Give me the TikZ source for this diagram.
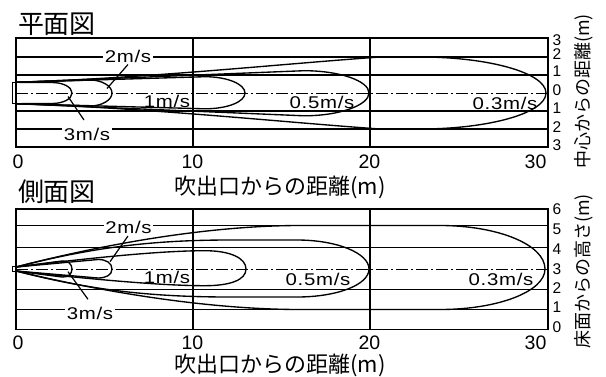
\documentclass[tikz,border=0pt]{standalone}
\usepackage{fontspec}
\setmainfont{Liberation Sans}
\newfontfamily\jp{Noto Sans CJK JP}
\newfontfamily\lbl[FakeStretch=1.2,LetterSpace=4]{Liberation Sans}
\tikzset{
  gridline/.style={line width=1.35pt},
  contour/.style={line width=1.35pt, line join=round},
  centerline/.style={line width=1pt, dash pattern=on 12pt off 3pt on 2pt off 3pt},
  leader/.style={line width=1.2pt},
  tick/.style={font=\fontsize{19.5}{19.5}\selectfont, inner sep=0pt},
  rtick/.style={font=\fontsize{15.5}{15.5}\selectfont, inner sep=0pt},
  lab/.style={font=\lbl\fontsize{17}{17}\selectfont, inner sep=0.5pt},
  wlab/.style={lab, fill=white, inner sep=1.5pt},
  title/.style={font=\jp\fontsize{26}{26}\selectfont, inner sep=0pt},
  axtitle/.style={font=\jp\fontsize{22}{22}\selectfont, inner sep=0pt},
  rtitle/.style={font=\jp\fontsize{18}{18}\selectfont, inner sep=0pt, rotate=90},
}
\begin{document}
\begin{tikzpicture}[x=1pt,y=-1pt]
\useasboundingbox (0,0) rectangle (606,376);
% ===================== TOP: plan view =====================
\node[title] (t1) at (57,24) {平面図};
% grid
\draw[gridline] (16,38) rectangle (548,147);
\foreach \yy in {57,75,111,129} \draw[gridline] (16,\yy) -- (548,\yy);
\draw[gridline] (193,38) -- (193,147);
\draw[gridline] (370,38) -- (370,147);
\draw[centerline] (16,93) -- (548,93);
% nozzle
\draw[gridline] (12.7,82.3) rectangle (16,103.7);
% contours
\draw[contour] (16,82.3) -- (52,82.5) .. controls (63,82.5) and (72,87) .. (72,93)
  .. controls (72,99) and (63,103.5) .. (52,103.5) -- (16,103.7);
\draw[contour] (16,82.3) -- (90,80) .. controls (102,80) and (112,86) .. (112,93)
  .. controls (112,100) and (102,106) .. (90,106) -- (16,103.7);
\draw[contour] (16,82.3) -- (205,76.7) .. controls (227,76.7) and (245,84) .. (245,93)
  .. controls (245,102) and (227,108.8) .. (205,108.8) -- (16,103.7);
\draw[contour] (16,82.3) -- (304,70.7) .. controls (340,70.7) and (369,81) .. (369,93)
  .. controls (369,105) and (340,115.8) .. (304,115.8) -- (16,103.7);
\draw[contour] (16,82.3) .. controls (150,78) and (280,64) .. (380,57) -- (420,57)
  .. controls (489.5,57) and (546,73.1) .. (546,93)
  .. controls (546,112.9) and (489.5,129) .. (420,129) -- (380,129)
  .. controls (280,122) and (150,108) .. (16,103.7);
% labels
\node[wlab] (a2) at (128,56) {2m/s};
\node[wlab] (a3) at (87,134.5) {3m/s};
\node[lab] (a1) at (167,101.5) {1m/s};
\node[lab] (a05) at (322,102.5) {0.5m/s};
\node[lab] (a03) at (505,103) {0.3m/s};
\coordinate (a2e) at (107,88.5);
\coordinate (a2s) at (128,64.5);
\coordinate (a3e) at (68,96.5);
\coordinate (a3s) at (84,120);
\draw[leader] (a2s) -- (a2e);
\draw[leader] (a3s) -- (a3e);
% ticks
\node[tick] (x0a) at (18,161.5) {0};
\node[tick] (x10a) at (192.5,161.5) {10};
\node[tick] (x20a) at (369.5,161.5) {20};
\node[tick] (x30a) at (535.5,161.5) {30};
\node[axtitle] (xta) at (280,187.5) {吹出口からの距離(m)};
\node[rtick] (r3a) at (557,40) {3};
\node[rtick] (r2a) at (557,54) {2};
\node[rtick] (r1a) at (557,71.5) {1};
\node[rtick] (r0a) at (557,90) {0};
\node[rtick] (r1b) at (557,108.3) {1};
\node[rtick] (r2b) at (557,126.7) {2};
\node[rtick] (r3b) at (557,145) {3};
\node[rtitle] (yta) at (584,91.5) {中心からの距離(m)};
% ===================== BOTTOM: side view =====================
\node[title] (t2) at (57,192) {側面図};
\draw[gridline] (16,209) rectangle (548,329.5);
\foreach \yy in {225.5,247.7,289.3,309.5} \draw[gridline] (16,\yy) -- (548,\yy);
\draw[gridline] (193,209) -- (193,329.5);
\draw[gridline] (370,209) -- (370,329.5);
\draw[centerline] (16,269) -- (548,269);
\draw[gridline] (12.7,266.8) rectangle (16,271.2);
% contours
\draw[contour] (16,267) -- (62,261) .. controls (68,260.5) and (72,264) .. (72,269)
  .. controls (72,274) and (68,277.5) .. (62,277) -- (16,271);
\draw[contour] (16,267) -- (98,259.5) .. controls (106,259.3) and (112,263) .. (112,269)
  .. controls (112,275) and (106,278) .. (98,278) -- (16,271);
\draw[contour] (16,267) .. controls (90,258) and (160,250.7) .. (205,250.7)
  .. controls (230,250.7) and (246,258) .. (246,269)
  .. controls (246,280) and (230,285.7) .. (205,285.7)
  .. controls (160,285.7) and (90,279) .. (16,271);
\draw[contour] (16,267) .. controls (90,248) and (150,240) .. (230,240) -- (297,240)
  .. controls (336.7,240) and (369,253) .. (369,269)
  .. controls (369,285) and (336.7,297) .. (297,297) -- (230,297)
  .. controls (150,297) and (90,290) .. (16,271);
\draw[contour] (16,267) .. controls (120,240) and (220,225.5) .. (300,225.5) -- (440,225.5)
  .. controls (498,225.5) and (545,244.7) .. (545,269)
  .. controls (545,291.5) and (498,309.5) .. (440,309.5) -- (300,309.5)
  .. controls (220,309.5) and (120,296) .. (16,271);
% labels
\node[wlab] (b2) at (128.5,227) {2m/s};
\node[wlab] (b3) at (90,313) {3m/s};
\node[lab] (b1) at (167,277.5) {1m/s};
\node[lab] (b05) at (318,279) {0.5m/s};
\node[lab] (b03) at (501,279) {0.3m/s};
\coordinate (b2e) at (110,261.7);
\coordinate (b2s) at (128,236);
\coordinate (b3e) at (68,271.7);
\coordinate (b3s) at (88,299.3);
\draw[leader] (b2s) -- (b2e);
\draw[leader] (b3s) -- (b3e);
% ticks
\node[tick] (x0b) at (18,343) {0};
\node[tick] (x10b) at (192.5,343) {10};
\node[tick] (x20b) at (369.5,343) {20};
\node[tick] (x30b) at (535.5,343) {30};
\node[axtitle] (xtb) at (280,365) {吹出口からの距離(m)};
\node[rtick] (s6) at (557,209) {6};
\node[rtick] (s5) at (557,229) {5};
\node[rtick] (s4) at (557,249) {4};
\node[rtick] (s3) at (557,269) {3};
\node[rtick] (s2) at (557,288) {2};
\node[rtick] (s1) at (557,307.5) {1};
\node[rtick] (s0) at (557,327.5) {0};
\node[rtitle] (ytb) at (584,271.5) {床面からの高さ(m)};
\end{tikzpicture}
\end{document}
